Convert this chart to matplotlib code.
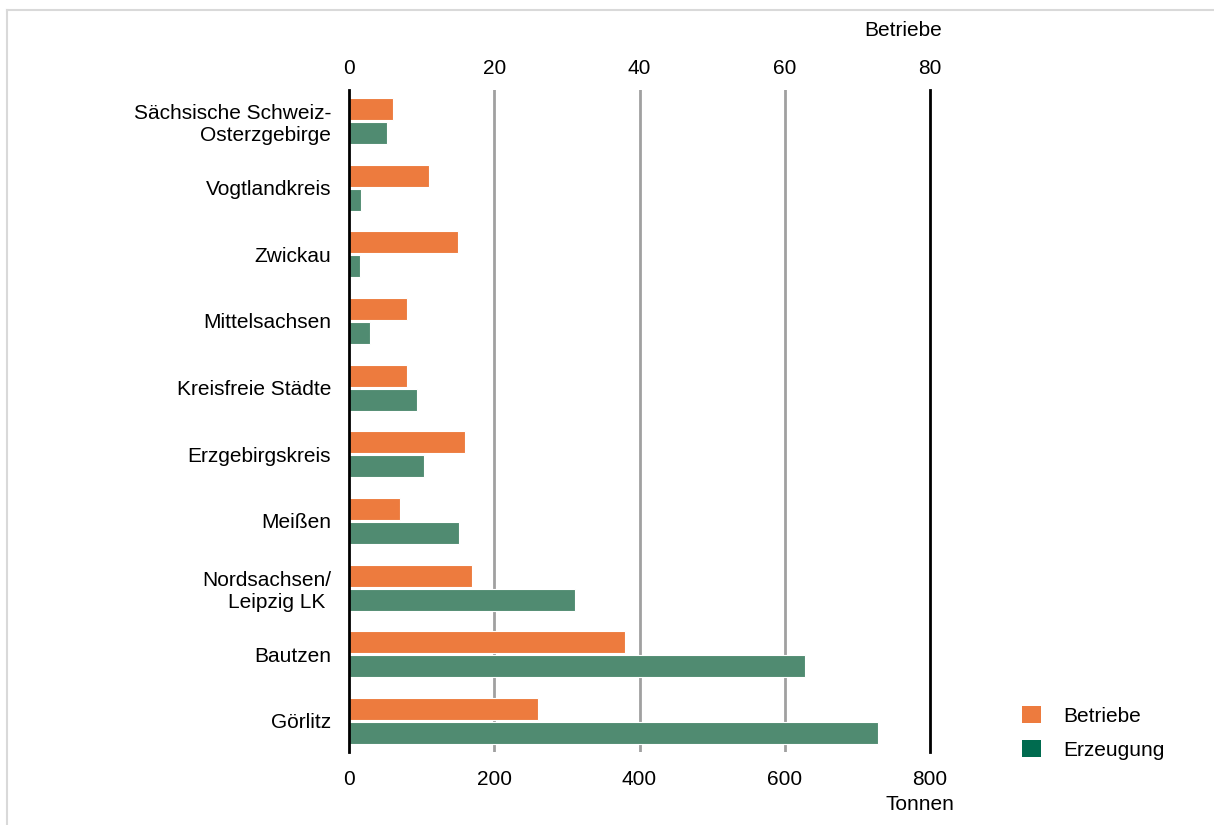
import matplotlib.pyplot as plt
from matplotlib.patches import Patch
from matplotlib.lines import Line2D
import numpy as np

plt.rcParams['font.family'] = ['Liberation Sans', 'DejaVu Sans']

regions = ['Sächsische Schweiz-\nOsterzgebirge', 'Vogtlandkreis', 'Zwickau', 'Mittelsachsen',
           'Kreisfreie Städte', 'Erzgebirgskreis', 'Meißen', 'Nordsachsen/\nLeipzig LK ',
           'Bautzen', 'Görlitz']
betriebe = [6, 11, 15, 8, 8, 16, 7, 17, 38, 26]
erzeugung = [52, 16, 15, 29, 94, 103, 152, 311, 628, 729]

orange = '#ed7b3e'
green = '#508b71'
green_legend = '#006b4f'
fs = 15

fig = plt.figure(figsize=(12.14, 8.25), dpi=100)
ax = fig.add_axes([349/1214, 1-752/825, 581/1214, 662/825])
ax2 = ax.twiny()

y = np.arange(len(regions))
h = 0.33
ax.barh(y + h/2 + 0.015, erzeugung, height=h, color=green, edgecolor='white', linewidth=0.8, zorder=3)
ax2.barh(y - h/2 - 0.015, betriebe, height=h, color=orange, edgecolor='white', linewidth=0.8, zorder=3)

ax.set_xlim(0, 800)
ax2.set_xlim(0, 80)
ax.set_ylim(len(regions) - 0.535, -0.465)

for v in [200, 400, 600]:
    ax.axvline(v, color='#a0a0a0', lw=2, zorder=1)
# black frame lines on the top axes so the bars don't cover them
for v in [0, 80]:
    ax2.axvline(v, color='black', lw=2, zorder=5, clip_on=False)

ax.set_yticks(y)
ax.set_yticklabels(regions, fontsize=fs)
ax.set_xticks([0, 200, 400, 600, 800])
ax2.set_xticks([0, 20, 40, 60, 80])
ax.tick_params(axis='y', length=0, pad=13)
ax.tick_params(axis='x', length=0, labelsize=fs, pad=13)
ax2.tick_params(axis='x', length=0, labelsize=fs, pad=9)
for a in (ax, ax2):
    for s in a.spines.values():
        s.set_visible(False)

fig.text(903/1214, 1-30/825, 'Betriebe', fontsize=fs, ha='center', va='center')
fig.text(920/1214, 1-805/825, 'Tonnen', fontsize=fs, ha='center', va='center')

handles = [Patch(facecolor=orange, label='Betriebe'), Patch(facecolor=green_legend, label='Erzeugung')]
fig.legend(handles=handles, loc='upper left', bbox_to_anchor=(1003/1214, 1-687/825), frameon=False,
           fontsize=fs, handlelength=0.9, handleheight=0.9, handletextpad=1.1, labelspacing=0.7)

fig.add_artist(Line2D([7/1214, 1], [1-9.5/825, 1-9.5/825], color='#d9d9d9', lw=1.5))
fig.add_artist(Line2D([7/1214, 7/1214], [0, 1-9.5/825], color='#d9d9d9', lw=1.5))

fig.savefig('out.png', dpi=100)
